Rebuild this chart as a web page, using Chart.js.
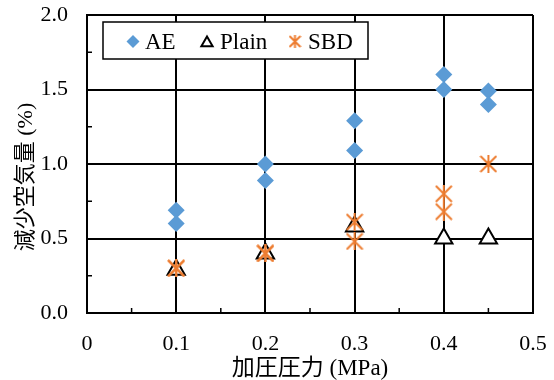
<!DOCTYPE html>
<html>
<head>
<meta charset="utf-8">
<script src="https://cdn.jsdelivr.net/npm/chart.js@4.4.0/dist/chart.umd.min.js"></script>
<style>
  html, body { margin: 0; padding: 0; background: #fff; }
  #wrap { width: 554px; height: 380px; position: relative; }
</style>
</head>
<body>
<div id="wrap"><canvas id="chart"></canvas></div>
<script>
// 加圧圧力 (MPa) vs 減少空気量 (%)
const aeX    = [0.1, 0.1, 0.2, 0.2, 0.3, 0.3, 0.4, 0.4, 0.45, 0.45]
const aeY    = [0.69, 0.6, 1.0, 0.89, 1.29, 1.09, 1.6, 1.5, 1.49, 1.4]
const plainX = [0.1, 0.2, 0.3, 0.4, 0.45]
const plainY = [0.29, 0.4, 0.58, 0.5, 0.5]
const sbdX   = [0.1, 0.1, 0.2, 0.2, 0.3, 0.3, 0.4, 0.4, 0.45]
const sbdY   = [0.3, 0.3, 0.4, 0.4, 0.61, 0.48, 0.8, 0.68, 1.0]

const xTicks = [0, 0.1, 0.2, 0.3, 0.4, 0.5]
const yTicks = [0, 0.5, 1.0, 1.5, 2.0]
const xMinor = [0.05, 0.15, 0.25, 0.35, 0.45]
const yMinor = [0.25, 0.75, 1.25, 1.75]

const yTitle = '減少空気量 (%)'

const BLUE = '#5B9BD5'
const ORANGE = '#ED7D31'
const FONT = '"Liberation Serif", "Noto Sans CJK JP", serif'

const pts = (xs, ys) => xs.map((x, i) => ({ x, y: ys[i] }))

// Excel-style star: X with a vertical bar
function starMarker(size, color) {
  const c = document.createElement('canvas')
  c.width = size; c.height = size
  const g = c.getContext('2d')
  g.strokeStyle = color
  g.lineWidth = 2
  g.beginPath()
  g.moveTo(1, 1); g.lineTo(size - 1, size - 1)
  g.moveTo(size - 1, 1); g.lineTo(1, size - 1)
  g.moveTo(size / 2, 0); g.lineTo(size / 2, size)
  g.stroke()
  return c
}
const star = starMarker(18, ORANGE)
const starSmall = starMarker(13, ORANGE)

// short inward ticks between the gridlines
const minorTicks = {
  id: 'minorTicks',
  beforeDatasetsDraw(chart) {
    const { ctx, chartArea: a, scales: { x, y } } = chart
    ctx.save()
    ctx.strokeStyle = '#000'
    ctx.lineWidth = 1.5
    ctx.beginPath()
    xMinor.forEach(v => { const px = x.getPixelForValue(v); ctx.moveTo(px, a.bottom); ctx.lineTo(px, a.bottom - 5) })
    yMinor.forEach(v => { const py = y.getPixelForValue(v); ctx.moveTo(a.left, py); ctx.lineTo(a.left + 5, py) })
    ctx.stroke()
    ctx.restore()
  }
}

// vertical axis title, sits a little below the middle of the plot
const sideTitle = {
  id: 'sideTitle',
  afterDraw(chart) {
    const { ctx, chartArea: a } = chart
    ctx.save()
    ctx.translate(26, (a.top + a.bottom) / 2 + 13)
    ctx.rotate(-Math.PI / 2)
    ctx.font = '22px ' + FONT
    ctx.fillStyle = '#000'
    ctx.textAlign = 'center'
    ctx.textBaseline = 'middle'
    ctx.fillText(yTitle, 0, 0)
    ctx.restore()
  }
}

// boxed legend sitting inside the plot
const boxLegend = {
  id: 'boxLegend',
  afterDraw(chart) {
    const { ctx, chartArea: a } = chart
    const bx = a.left + 16, by = a.top + 7, bw = 265, bh = 37
    ctx.save()
    ctx.fillStyle = '#fff'
    ctx.fillRect(bx, by, bw, bh)
    ctx.strokeStyle = '#000'
    ctx.lineWidth = 1.5
    ctx.strokeRect(bx, by, bw, bh)
    const cy = by + bh / 2 + 1
    const slots = [{ mx: 30, tx: 42 }, { mx: 104, tx: 117 }, { mx: 192, tx: 205 }]
    ctx.font = '23px ' + FONT
    ctx.textBaseline = 'middle'
    chart.data.datasets.forEach((ds, i) => {
      const s = slots[i]
      const style = ds.pointStyle === star ? starSmall : ds.pointStyle
      const r = ds.pointStyle === 'triangle' ? 6.5 : 6.5
      ctx.fillStyle = ds.pointBackgroundColor
      ctx.strokeStyle = ds.pointBorderColor
      ctx.lineWidth = ds.pointBorderWidth
      Chart.helpers.drawPoint(ctx, {
        pointStyle: style, radius: r, rotation: 0, borderWidth: ds.pointBorderWidth
      }, bx + s.mx, cy + (ds.pointStyle === 'triangle' ? 1.5 : 0))
      ctx.fillStyle = '#000'
      ctx.fillText(ds.label, bx + s.tx, cy + 1)
    })
    ctx.restore()
  }
}

new Chart(document.getElementById('chart'), {
  type: 'scatter',
  data: {
    datasets: [
      {
        label: 'AE', data: pts(aeX, aeY), order: 2,
        pointStyle: 'rectRot', pointRadius: 8.5,
        pointBackgroundColor: BLUE, pointBorderColor: BLUE, pointBorderWidth: 0
      },
      {
        label: 'Plain', data: pts(plainX, plainY), order: 1,
        pointStyle: 'triangle', pointRadius: 10,
        pointBackgroundColor: '#fff', pointBorderColor: '#000', pointBorderWidth: 2
      },
      {
        label: 'SBD', data: pts(sbdX, sbdY), order: 0,
        pointStyle: star, pointRadius: 9,
        pointBackgroundColor: ORANGE, pointBorderColor: ORANGE, pointBorderWidth: 2
      }
    ]
  },
  options: {
    responsive: true,
    maintainAspectRatio: false,
    animation: false,
    events: [],
    layout: { padding: { top: 15, right: 21, left: 0, bottom: 0 } },
    plugins: { legend: { display: false }, tooltip: { enabled: false } },
    scales: {
      x: {
        type: 'linear', min: 0, max: 0.5,
        afterFit: s => { s.height = 67; s.paddingLeft = 0; s.paddingRight = 0 },
        afterBuildTicks: s => { s.ticks = xTicks.map(v => ({ value: v })) },
        grid: { color: '#000', lineWidth: 2, drawTicks: false },
        border: { color: '#000', width: 2 },
        ticks: {
          color: '#000', padding: 18, maxRotation: 0,
          font: { family: FONT, size: 22 },
          callback: v => v === 0 ? '0' : v.toFixed(1)
        },
        title: {
          display: true, text: '加圧圧力 (MPa)', color: '#000',
          font: { family: FONT, size: 23 }, padding: { top: 0, bottom: -3 }
        }
      },
      y: {
        type: 'linear', min: 0, max: 2,
        afterFit: s => { s.width = 87; s.paddingTop = 0; s.paddingBottom = 0 },
        afterBuildTicks: s => { s.ticks = yTicks.map(v => ({ value: v })) },
        grid: { color: '#000', lineWidth: 2, drawTicks: false },
        border: { color: '#000', width: 2 },
        ticks: {
          color: '#000', padding: 19,
          font: { family: FONT, size: 22 },
          callback: v => v.toFixed(1)
        }
      }
    }
  },
  plugins: [minorTicks, sideTitle, boxLegend]
})
</script>
</body>
</html>
